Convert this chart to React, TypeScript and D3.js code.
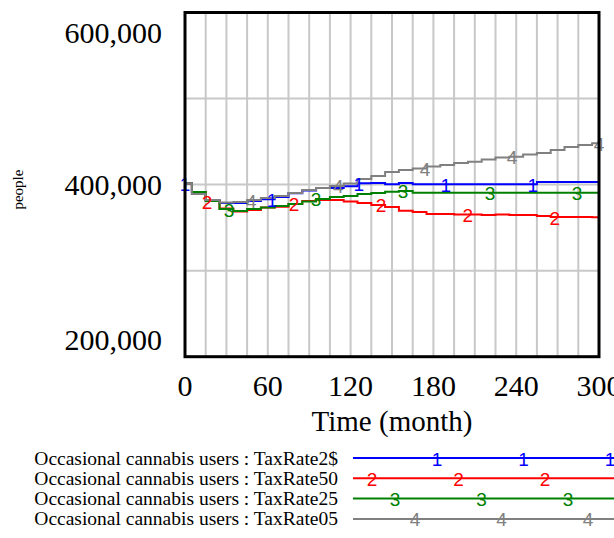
import React from "react";
import * as d3 from "d3";

const times = d3.range(0, 301, 10);
const seriesNames = [
  "Occasional cannabis users : TaxRate2$",
  "Occasional cannabis users : TaxRate50",
  "Occasional cannabis users : TaxRate25",
  "Occasional cannabis users : TaxRate05",
];
const seriesColors = ["#0000ff", "#ff0000", "#008000", "#808080"];
const blue = [401500, 389000, 382000, 378500, 378500, 381000, 383000, 385500, 390000, 393000, 396000, 396000, 398000, 401500, 402000, 400500, 402000, 400500, 400500, 400500, 400500, 400500, 400500, 400500, 400500, 400500, 403000, 403000, 403000, 403000, 403000];
const red = [401500, 391400, 380900, 372200, 368700, 370500, 373400, 374300, 377500, 380900, 382100, 382100, 380400, 378600, 376300, 374000, 369700, 368200, 365800, 365800, 365200, 365200, 364600, 365200, 364600, 364600, 363500, 362300, 362300, 362300, 362000];
const green = [401500, 391400, 380900, 371600, 369300, 371600, 373400, 375100, 377500, 380400, 383300, 385600, 386800, 389100, 390200, 391700, 392600, 390600, 390600, 390600, 390600, 390600, 390600, 390600, 390600, 390600, 390600, 390600, 390600, 390600, 390600];
const gray = [401500, 389100, 382100, 379200, 379800, 382100, 384400, 386800, 390200, 393700, 396000, 398400, 401300, 406500, 410000, 414600, 417000, 418700, 421000, 422800, 425100, 426600, 429200, 431500, 432400, 435000, 436700, 440200, 443700, 446000, 448000];
const seriesValues = [blue, red, green, gray];
const markerLabels = ["1", "2", "3", "4"];
const markerOffsets = [0, 16, 32, 48];
const markerPeriod = 63;
const xTicks = [0, 60, 120, 180, 240, 300];
const yTicks = [200000, 400000, 600000];
const xGridStep = 15;
const yGridStep = 100000;
const legendMarkerOffsets = [84, 19, 42, 62];

export default function App() {
  const W = 614, H = 538;
  const left = 185, right = 599, top = 12.5, bottom = 356.7;
  const x = d3.scaleLinear().domain([0, 300]).range([left, right]);
  const y = d3.scaleLinear().domain([200000, 600000]).range([bottom, top]);
  const fmt = d3.format(",");
  const line = d3
    .line<number>()
    .x((_, i) => x(times[i]))
    .y((d) => y(d))
    .curve(d3.curveStep);
  const valueAt = (vals: number[], t: number) => {
    const i = Math.min(vals.length - 1, Math.max(0, Math.round(t / 10)));
    return vals[i];
  };
  const serif = "'Liberation Serif', 'Times New Roman', serif";
  const sans = "'Liberation Sans', Arial, sans-serif";
  const gridX = d3.range(xGridStep, 300, xGridStep);
  const gridY = d3.range(200000 + yGridStep, 600000, yGridStep);
  const legendTop = 458, legendStep = 20.3;
  const legendLineX0 = 353, legendLineX1 = 614, legendPeriod = 86.5;

  return (
    <svg width={W} height={H} style={{ position: "absolute", left: 0, top: 0, background: "#fff" }}>
      <rect x={0} y={0} width={W} height={H} fill="#fff" />
      {gridX.map((t) => (
        <line key={"gx" + t} x1={x(t)} x2={x(t)} y1={top} y2={bottom} stroke="#c8c8c8" strokeWidth={2} />
      ))}
      {gridY.map((v) => (
        <line key={"gy" + v} x1={left} x2={right} y1={y(v)} y2={y(v)} stroke="#c8c8c8" strokeWidth={2} />
      ))}
      {seriesValues.map((vals, si) => (
        <path key={"s" + si} d={line(vals) || ""} fill="none" stroke={seriesColors[si]} strokeWidth={2} />
      ))}
      {seriesValues.map((vals, si) =>
        d3.range(markerOffsets[si], 301, markerPeriod).map((t) => (
          <text
            key={"m" + si + "-" + t}
            x={x(t)}
            y={y(valueAt(vals, t)) + 1}
            fill={seriesColors[si]}
            fontFamily={sans}
            fontSize={19}
            textAnchor="middle"
            dominantBaseline="central"
          >
            {markerLabels[si]}
          </text>
        ))
      )}
      <rect x={left} y={top} width={right - left} height={bottom - top} fill="none" stroke="#000" strokeWidth={3} />
      {yTicks.map((v) => {
        const yy = Math.min(Math.max(y(v), top + 19.5), bottom - 17);
        return (
          <text key={"yt" + v} x={162} y={yy} fontFamily={serif} fontSize={30} textAnchor="end" dominantBaseline="central" fill="#000">
            {fmt(v)}
          </text>
        );
      })}
      {xTicks.map((t) => (
        <text key={"xt" + t} x={x(t)} y={385} fontFamily={serif} fontSize={30} textAnchor="middle" dominantBaseline="central" fill="#000">
          {t}
        </text>
      ))}
      <text x={392} y={421} fontFamily={serif} fontSize={29} textAnchor="middle" dominantBaseline="central" fill="#000">
        Time (month)
      </text>
      <text
        transform={`translate(18,${y(400000) + 5}) rotate(-90)`}
        fontFamily={serif}
        fontSize={15}
        textAnchor="middle"
        dominantBaseline="central"
        fill="#000"
      >
        people
      </text>
      {seriesNames.map((name, si) => {
        const ly = legendTop + si * legendStep;
        return (
          <g key={"lg" + si}>
            <text x={338} y={ly} fontFamily={serif} fontSize={19.5} textAnchor="end" dominantBaseline="central" fill="#000">
              {name}
            </text>
            <line x1={legendLineX0} x2={legendLineX1} y1={ly} y2={ly} stroke={seriesColors[si]} strokeWidth={2} />
            {d3.range(legendLineX0 + legendMarkerOffsets[si], legendLineX1 + 5, legendPeriod).map((lx) => (
              <text key={lx} x={lx} y={ly + 1} fill={seriesColors[si]} fontFamily={sans} fontSize={19} textAnchor="middle" dominantBaseline="central">
                {markerLabels[si]}
              </text>
            ))}
          </g>
        );
      })}
    </svg>
  );
}
